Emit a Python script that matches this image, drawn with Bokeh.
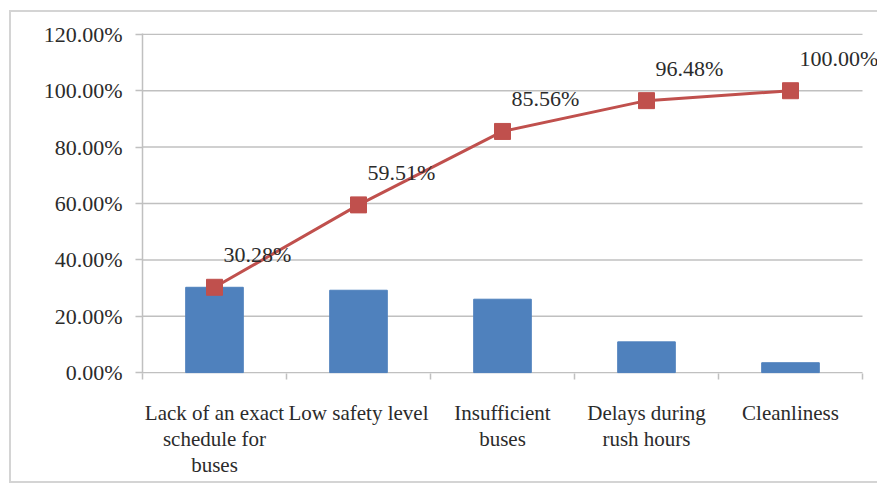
from bokeh.plotting import figure
from bokeh.models import Range1d, FixedTicker, PrintfTickFormatter, LabelSet, ColumnDataSource
from bokeh.embed import file_html
from bokeh.resources import INLINE

categories = ["Lack of an exact\nschedule for\nbuses", "Low safety level",
              "Insufficient\nbuses", "Delays during\nrush hours", "Cleanliness"]
share = [30.28, 29.23, 26.05, 10.92, 3.52]
cumulative = [30.28, 59.51, 85.56, 96.48, 100.00]
cum_labels = ["30.28%", "59.51%", "85.56%", "96.48%", "100.00%"]
y_ticks = [0, 20, 40, 60, 80, 100, 120]

FONT = "Liberation Serif"
GRID = "#c0c0c0"
TXT = "#2b2b2b"

n = len(categories)
xs = [i + 0.5 for i in range(n)]
# frame extends past the last category so the last label is not clipped
x_end = n * (879 - 142) / (862 - 142)

p = figure(width=868, height=473, output_backend="svg", toolbar_location=None,
           x_range=Range1d(0, x_end), y_range=Range1d(-0.3, 120.3),
           min_border_left=131, min_border_right=0, min_border_top=21, min_border_bottom=112)
p.styles = {"border-left": "2px solid #d4d4d4", "border-top": "2px solid #d4d4d4",
            "border-bottom": "2px solid #d4d4d4",
            "margin-left": "9px", "margin-top": "10px"}
p.outline_line_color = None
p.background_fill_color = "white"
p.border_fill_color = "white"

# gridlines over the category span only
p.segment(x0=[0] * len(y_ticks), x1=[n] * len(y_ticks), y0=y_ticks, y1=y_ticks,
          line_color=GRID, line_width=1.5)

p.vbar(x=xs, top=share, width=0.4, color="#4F81BD")
p.line(xs, cumulative, color="#C0504D", line_width=3)
p.scatter(xs, cumulative, marker="square", size=16, color="#C0504D")

src = ColumnDataSource(dict(x=xs, y=cumulative, t=cum_labels))
labels = LabelSet(x="x", y="y", text="t", source=src, x_offset=9, y_offset=20,
                  text_align="left", text_baseline="bottom",
                  text_font="Liberation Serif", text_font_size="22px", text_color=TXT)
p.add_layout(labels)

# y axis
ya = p.yaxis[0]
ya.ticker = FixedTicker(ticks=y_ticks)
ya.formatter = PrintfTickFormatter(format="%.2f%%")
ya.axis_line_color = GRID
ya.axis_line_width = 1.5
ya.major_tick_line_color = GRID
ya.major_tick_line_width = 1.5
ya.major_tick_out = 7
ya.major_tick_in = 0
ya.minor_tick_line_color = None
ya.major_label_standoff = 13
ya.major_label_text_font = FONT
ya.major_label_text_font_size = "22px"
ya.major_label_text_color = TXT

# x axis
xa = p.xaxis[0]
xa.ticker = FixedTicker(ticks=xs, minor_ticks=list(range(n + 1)))
xa.major_label_overrides = {x: c for x, c in zip(xs, categories)}
xa.axis_line_color = None
xa.major_tick_line_color = None
xa.major_tick_out = 0
xa.major_tick_in = 0
xa.minor_tick_line_color = GRID
xa.minor_tick_line_width = 1.5
xa.minor_tick_out = 6
xa.minor_tick_in = 0
xa.major_label_standoff = 21
xa.major_label_text_font = FONT
xa.major_label_text_font_size = "21px"
xa.major_label_text_color = TXT
xa.major_label_text_line_height = 1.1

p.xgrid.grid_line_color = None
p.ygrid.grid_line_color = None

open("out.html", "w").write(file_html(p, INLINE))
